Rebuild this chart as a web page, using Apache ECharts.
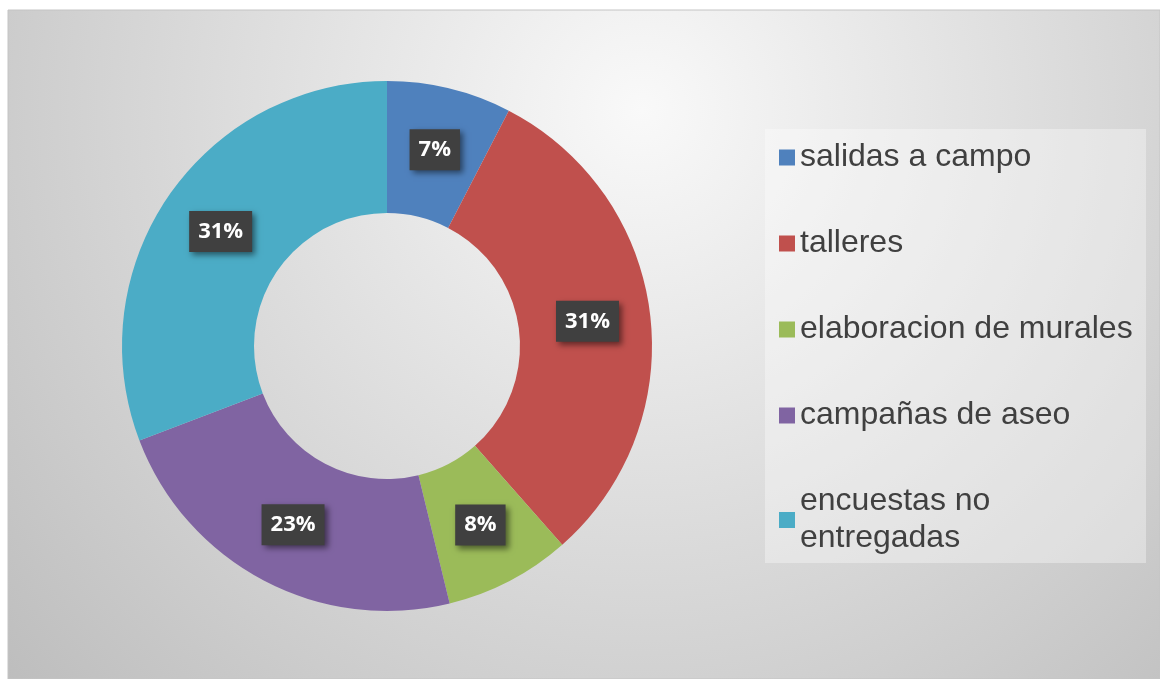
<!DOCTYPE html>
<html>
<head>
<meta charset="utf-8">
<script src="https://cdn.jsdelivr.net/npm/echarts@6/dist/echarts.min.js"></script>
<style>
  html, body { margin: 0; padding: 0; background: #fff; }
  #chart { width: 1160px; height: 679px; }
</style>
</head>
<body>
<div id="chart"></div>
<script>
const categories = ['salidas a campo', 'talleres', 'elaboracion de murales', 'campañas de aseo', 'encuestas no entregadas'];
const shares = [7.6, 30.9, 7.7, 23.0, 30.8];
const percentLabels = ['7%', '31%', '8%', '23%', '31%'];
const colors = ['#4f81bd', '#c0504d', '#9bbb59', '#8064a2', '#4bacc6'];

const chart = echarts.init(document.getElementById('chart'));

const option = {
    animation: false,
    color: colors,
    graphic: [
        {
            type: 'rect',
            shape: { x: 8, y: 10, width: 1152, height: 669 },
            style: {
                fill: {
                    type: 'radial', x: 0.55, y: 0.15, r: 1.3,
                    colorStops: [
                        { offset: 0, color: '#f9f9f9' },
                        { offset: 1, color: '#bcbcbc' }
                    ]
                },
                stroke: '#c4c4c4',
                lineWidth: 1
            },
            z: -10
        },
        {
            // legend backdrop
            type: 'rect',
            shape: { x: 765, y: 129, width: 381, height: 434 },
            style: { fill: 'rgba(255,255,255,0.35)' },
            z: -5
        }
    ],
    legend: {
        orient: 'vertical',
        left: 779,
        top: 139,
        padding: 0,
        itemWidth: 16,
        itemHeight: 16,
        itemGap: 49,
        itemTextGap: 6,
        icon: 'rect',
        data: categories,
        textStyle: {
            fontFamily: 'Liberation Sans, Arial, sans-serif',
            fontSize: 32,
            lineHeight: 37,
            color: '#404040',
            width: 340,
            overflow: 'break'
        }
    },
    series: [
        {
            type: 'pie',
            center: [387, 346],
            radius: [133, 265],
            startAngle: 90,
            clockwise: true,
            avoidLabelOverlap: false,
            data: categories.map((name, i) => ({ name: name, value: shares[i] })),
            label: {
                show: true,
                position: 'inside',
                formatter: p => percentLabels[p.dataIndex],
                fontFamily: 'Open Sans, sans-serif',
                fontWeight: 'bold',
                fontSize: 22,
                lineHeight: 25,
                color: '#ffffff',
                backgroundColor: '#404040',
                padding: [8, 9],
                shadowColor: 'rgba(0,0,0,0.5)',
                shadowBlur: 6,
                shadowOffsetX: 3,
                shadowOffsetY: 3
            },
            labelLine: { show: false },
            itemStyle: { borderWidth: 0 },
            emphasis: { disabled: true }
        }
    ]
};

chart.setOption(option);
</script>
</body>
</html>
